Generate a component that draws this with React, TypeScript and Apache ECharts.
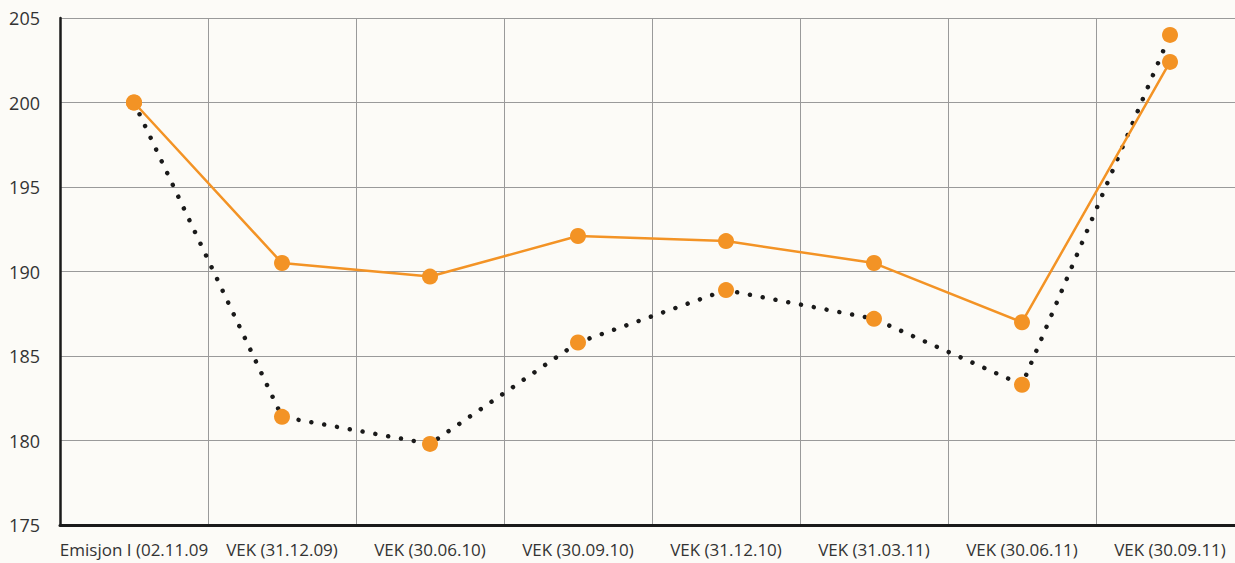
import React, { useEffect, useRef } from "react";
import * as echarts from "echarts";

const categories = [
  "Emisjon I (02.11.09",
  "VEK (31.12.09)",
  "VEK (30.06.10)",
  "VEK (30.09.10)",
  "VEK (31.12.10)",
  "VEK (31.03.11)",
  "VEK (30.06.11)",
  "VEK (30.09.11)",
];
const solidSeries = [200, 190.5, 189.7, 192.1, 191.8, 190.5, 187.0, 202.4];
const dottedSeries = [200, 181.4, 179.8, 185.8, 188.9, 187.2, 183.3, 204.0];
const yTicks = { min: 175, max: 205, interval: 5 };

export default function App() {
  const ref = useRef<HTMLDivElement>(null);
  useEffect(() => {
    document.body.style.margin = "0";
    document.body.style.overflow = "hidden";
    const chart = echarts.init(ref.current!, null, { renderer: "svg" });
    const orange = "#f39325";
    chart.setOption({
      animation: false,
      backgroundColor: "#fcfbf7",
      grid: { left: 60, top: 18, bottom: 38, right: 0, containLabel: false },
      xAxis: {
        type: "category",
        data: categories,
        boundaryGap: true,
        axisLine: { lineStyle: { color: "#1a1a1a", width: 3 } },
        axisTick: { show: false },
        axisLabel: {
          color: "#333",
          fontSize: 17,
          fontFamily: "Open Sans",
          margin: 16,
          interval: 0,
        },
        splitLine: { show: true, lineStyle: { color: "#9a9a9a", width: 1 } },
      },
      yAxis: {
        type: "value",
        min: yTicks.min,
        max: yTicks.max,
        interval: yTicks.interval,
        axisLine: { show: true, lineStyle: { color: "#1a1a1a", width: 2.5 } },
        axisTick: { show: false },
        axisLabel: {
          color: "#333",
          fontSize: 18,
          fontFamily: "Open Sans",
          margin: 20,
        },
        splitLine: { show: true, lineStyle: { color: "#9a9a9a", width: 1 } },
      },
      series: [
        {
          type: "line",
          data: dottedSeries,
          symbol: "circle",
          symbolSize: 16,
          itemStyle: { color: orange },
          lineStyle: { color: "#1a1a1a", width: 4.5, type: [0.01, 13], cap: "round" },
          z: 2,
        },
        {
          type: "line",
          data: solidSeries,
          symbol: "circle",
          symbolSize: 16,
          itemStyle: { color: orange },
          lineStyle: { color: orange, width: 2.5 },
          z: 3,
        },
      ],
    });
    return () => chart.dispose();
  }, []);
  return (
    <div
      ref={ref}
      style={{ position: "fixed", left: 0, top: 0, width: 1244, height: 563 }}
    />
  );
}
